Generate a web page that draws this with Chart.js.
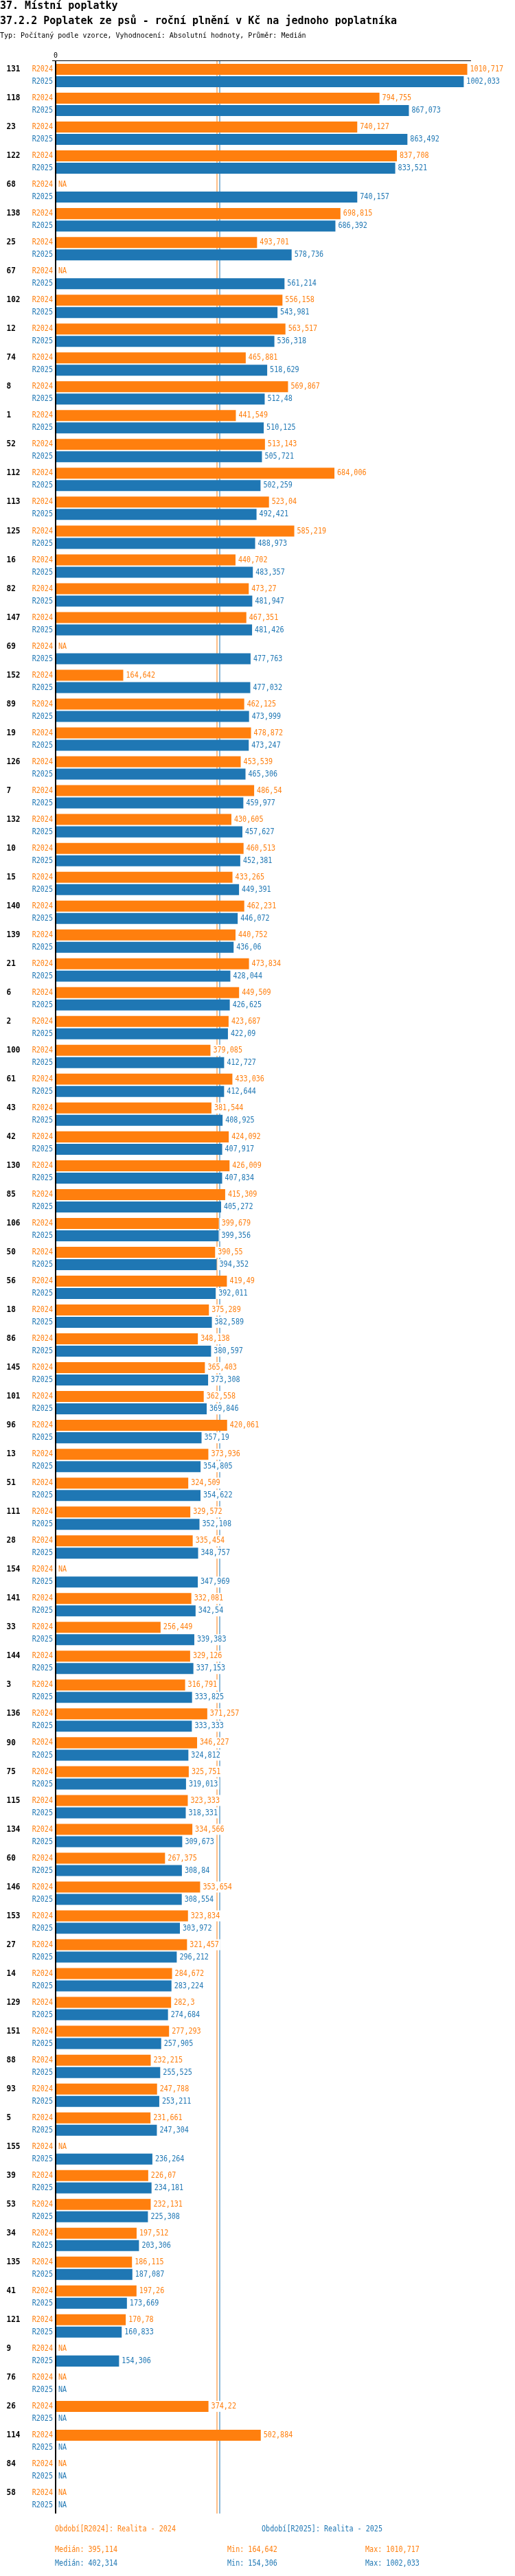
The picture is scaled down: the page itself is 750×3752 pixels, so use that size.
<!DOCTYPE html>
<html lang="cs">
<head>
<meta charset="utf-8">
<title>37.2.2 Poplatek ze psů</title>
<script src="https://cdn.jsdelivr.net/npm/chart.js@4.4.1/dist/chart.umd.min.js"></script>
<style>
  body { margin: 0; background: #fff; }
  #wrap { position: relative; width: 750px; height: 3752px; }
  #chart { position: absolute; left: 0; top: 0; }
  .head { position: absolute; left: 0; margin: 0; font-family: 'DejaVu Sans Mono', monospace; color: #000; white-space: nowrap; }
  #h1 { top: 0; font-size: 15px; line-height: 17px; font-weight: bold; }
  #h2 { top: 22px; font-size: 15px; line-height: 17px; font-weight: bold; }
  #typ { top: 46px; font-size: 10px; line-height: 12px; }
</style>
</head>
<body>
<div id="wrap">
  <canvas id="chart" width="750" height="3752"></canvas>
  <div class="head" id="h1">37. Místní poplatky</div>
  <div class="head" id="h2">37.2.2 Poplatek ze psů - roční plnění v Kč na jednoho poplatníka</div>
  <div class="head" id="typ">Typ: Počítaný podle vzorce, Vyhodnocení: Absolutní hodnoty, Průměr: Medián</div>
</div>
<script>
'use strict';

// categories (obce) top to bottom
let categories = ['131', '118', '23', '122', '68', '138', '25', '67', '102', '12',
  '74', '8', '1', '52', '112', '113', '125', '16', '82', '147',
  '69', '152', '89', '19', '126', '7', '132', '10', '15', '140',
  '139', '21', '6', '2', '100', '61', '43', '42', '130', '85',
  '106', '50', '56', '18', '86', '145', '101', '96', '13', '51',
  '111', '28', '154', '141', '33', '144', '3', '136', '90', '75',
  '115', '134', '60', '146', '153', '27', '14', '129', '151', '88',
  '93', '5', '155', '39', '53', '34', '135', '41', '121', '9',
  '76', '26', '114', '84', '58'];

// null = NA
let r2024 = [1010.717, 794.755, 740.127, 837.708, null, 698.815, 493.701, null, 556.158, 563.517,
  465.881, 569.867, 441.549, 513.143, 684.006, 523.04, 585.219, 440.702, 473.27, 467.351,
  null, 164.642, 462.125, 478.872, 453.539, 486.54, 430.605, 460.513, 433.265, 462.231,
  440.752, 473.834, 449.509, 423.687, 379.085, 433.036, 381.544, 424.092, 426.009, 415.309,
  399.679, 390.55, 419.49, 375.289, 348.138, 365.403, 362.558, 420.061, 373.936, 324.509,
  329.572, 335.454, null, 332.081, 256.449, 329.126, 316.791, 371.257, 346.227, 325.751,
  323.333, 334.566, 267.375, 353.654, 323.834, 321.457, 284.672, 282.3, 277.293, 232.215,
  247.788, 231.661, null, 226.07, 232.131, 197.512, 186.115, 197.26, 170.78, null,
  null, 374.22, 502.884, null, null];

let r2025 = [1002.033, 867.073, 863.492, 833.521, 740.157, 686.392, 578.736, 561.214, 543.981, 536.318,
  518.629, 512.48, 510.125, 505.721, 502.259, 492.421, 488.973, 483.357, 481.947, 481.426,
  477.763, 477.032, 473.999, 473.247, 465.306, 459.977, 457.627, 452.381, 449.391, 446.072,
  436.06, 428.044, 426.625, 422.09, 412.727, 412.644, 408.925, 407.917, 407.834, 405.272,
  399.356, 394.352, 392.011, 382.589, 380.597, 373.308, 369.846, 357.19, 354.805, 354.622,
  352.108, 348.757, 347.969, 342.54, 339.383, 337.153, 333.825, 333.333, 324.812, 319.013,
  318.331, 309.673, 308.84, 308.554, 303.972, 296.212, 283.224, 274.684, 257.905, 255.525,
  253.211, 247.304, 236.264, 234.181, 225.308, 203.306, 187.087, 173.669, 160.833, 154.306,
  null, null, null, null, null];

let seriesNames = ['R2024', 'R2025'];
let seriesLegend = ['Období[R2024]: Realita - 2024', 'Období[R2025]: Realita - 2025'];
let medians = [395.114, 402.314];
let mins = [164.642, 154.306];
let maxes = [1010.717, 1002.033];
let xTicks = [0];

let orange = '#ff7f0e';
let blue = '#1f77b4';
let colors = [orange, blue];
let mono = "'DejaVu Sans Mono', monospace";

function fmt(v) {
  return String(v).replace('.', ',');
}

// narrow text, the original uses a tall condensed mono face
function squeezeText(ctx, text, x, y, font, color, align, sx) {
  ctx.save();
  ctx.font = font;
  ctx.fillStyle = color;
  ctx.textAlign = align || 'left';
  ctx.textBaseline = 'middle';
  ctx.translate(x, y);
  ctx.scale(sx || 1, 1);
  ctx.fillText(text, 0, 0);
  ctx.restore();
}

function textWidth(ctx, text, font, sx) {
  ctx.save();
  ctx.font = font;
  let w = ctx.measureText(text).width * (sx || 1);
  ctx.restore();
  return w;
}

let labelFont = '12px ' + mono;
let labelSx = 0.84;

let decorPlugin = {
  id: 'decor',
  beforeDatasetsDraw(chart) {
    let ctx = chart.ctx;
    let area = chart.chartArea;
    let x = chart.scales.x;

    // median lines behind bars
    for (let i = 0; i < medians.length; i++) {
      ctx.fillStyle = colors[i];
      ctx.fillRect(Math.round(x.getPixelForValue(medians[i])) - 0.5, area.top, 1, area.bottom - area.top);
    }

    // axes
    ctx.fillStyle = '#000';
    ctx.fillRect(76, area.top - 1, area.right - 76, 1);
    ctx.fillRect(area.left - 2, area.top - 1, 2, area.bottom - area.top + 1);

    xTicks.forEach(function (t) {
      squeezeText(ctx, String(t), x.getPixelForValue(t) - 1, area.top - 8, '10px ' + mono, '#000', 'center', 1);
    });
  },
  afterDatasetsDraw(chart) {
    let ctx = chart.ctx;
    let area = chart.chartArea;
    let y = chart.scales.y;

    for (let j = 0; j < categories.length; j++) {
      squeezeText(ctx, categories[j], 9.5, y.getPixelForValue(j) - 9, 'bold 12px ' + mono, '#000', 'left', 0.92);
    }

    chart.data.datasets.forEach(function (ds, i) {
      let meta = chart.getDatasetMeta(i);
      for (let j = 0; j < ds.data.length; j++) {
        let el = meta.data[j];
        let cy = (el && isFinite(el.y)) ? el.y : y.getPixelForValue(j) + (i === 0 ? -9 : 9);
        squeezeText(ctx, seriesNames[i], 77, cy, labelFont, colors[i], 'right', labelSx);
        let v = ds.data[j];
        if (v === null) {
          squeezeText(ctx, 'NA', area.left + 3, cy, labelFont, colors[i], 'left', labelSx);
        } else {
          let txt = fmt(v);
          let w = textWidth(ctx, txt, labelFont, labelSx);
          ctx.fillStyle = '#fff';
          ctx.fillRect(el.x + 1, cy - 8, w + 5, 16);
          squeezeText(ctx, txt, el.x + 4, cy, labelFont, colors[i], 'left', labelSx);
        }
      }
    });
  },
  afterDraw(chart) {
    let ctx = chart.ctx;
    let legendX = [80, 381];
    for (let i = 0; i < 2; i++) {
      squeezeText(ctx, seriesLegend[i], legendX[i], 3684, labelFont, colors[i], 'left', labelSx);
      let rowY = 3714 + i * 20;
      squeezeText(ctx, 'Medián: ' + fmt(medians[i]), 80, rowY, labelFont, colors[i], 'left', labelSx);
      squeezeText(ctx, 'Min: ' + fmt(mins[i]), 331, rowY, labelFont, colors[i], 'left', labelSx);
      squeezeText(ctx, 'Max: ' + fmt(maxes[i]), 532, rowY, labelFont, colors[i], 'left', labelSx);
    }
  }
};

let ctx = document.getElementById('chart').getContext('2d');

new Chart(ctx, {
  type: 'bar',
  data: {
    labels: categories,
    datasets: [{
      label: seriesNames[0],
      data: r2024,
      backgroundColor: orange,
      barPercentage: 0.889,
      categoryPercentage: 0.857
    },
    {
      label: seriesNames[1],
      data: r2025,
      backgroundColor: blue,
      barPercentage: 0.889,
      categoryPercentage: 0.857
    }]
  },
  options: {
    indexAxis: 'y',
    responsive: false,
    animation: false,
    devicePixelRatio: 1,
    layout: {
      padding: { top: 89, bottom: 91, left: 82, right: 64 }
    },
    plugins: {
      legend: { display: false },
      tooltip: { enabled: false }
    },
    scales: {
      x: { display: false, min: 0, max: 1020 },
      y: { display: false }
    }
  },
  plugins: [decorPlugin]
});
</script>
</body>
</html>
